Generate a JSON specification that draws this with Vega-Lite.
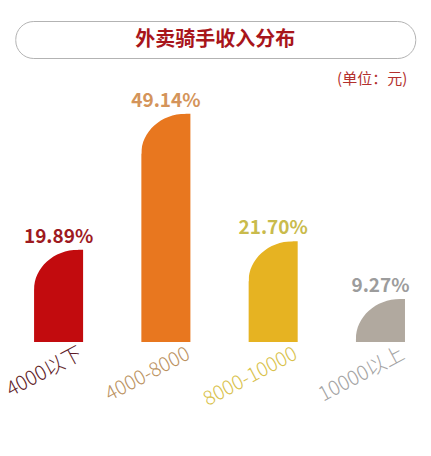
{
  "$schema": "https://vega.github.io/schema/vega-lite/v6.json",
  "padding": {"top": 20, "left": 0, "right": 0, "bottom": 0},
  "background": "white",
  "config": {"font": "Noto Sans CJK SC", "view": {"stroke": null}},
  "datasets": {
    "income": [
      {"range": "4000以下", "share": 0.1989},
      {"range": "4000-8000", "share": 0.4914},
      {"range": "8000-10000", "share": 0.2170},
      {"range": "10000以上", "share": 0.0927}
    ]
  },
  "spacing": 0,
  "center": true,
  "vconcat": [
    {
      "width": 400,
      "height": 37,
      "view": {"stroke": "#b3b3b3", "strokeWidth": 1, "cornerRadius": 18, "fill": "white"},
      "title": {"text": "(单位：元)", "orient": "bottom", "anchor": "end", "offset": 14, "dx": -8, "fontSize": 15, "fontWeight": "normal", "color": "#b3302d"},
      "data": {"values": [{"t": "外卖骑手收入分布"}]},
      "mark": {"type": "text", "fontSize": 20, "fontWeight": "bold", "color": "#a8151b"},
      "encoding": {"text": {"field": "t", "type": "nominal"}}
    },
    {
      "width": 431,
      "height": 254,
      "data": {"name": "income"},
      "encoding": {
        "x": {"field": "range", "type": "nominal", "sort": null,
              "scale": {"domain": ["4000以下", "4000-8000", "8000-10000", "10000以上"], "paddingInner": 0.543, "paddingOuter": 0.28, "align": 0.567},
              "axis": null}
      },
      "layer": [
        {
          "mark": {"type": "bar"},
          "encoding": {
            "y": {"field": "share", "type": "quantitative", "scale": {"domain": [0, 0.547], "nice": false, "zero": true}, "axis": null},
            "color": {"field": "range", "type": "nominal", "sort": null, "legend": null,
                      "scale": {"domain": ["4000以下", "4000-8000", "8000-10000", "10000以上"], "range": ["#c20b0e", "#e8771f", "#e6b322", "#b1a99f"]}}
          }
        },
        {
          "mark": {"type": "point", "shape": "M-0.05,-0.05 L0.92,-0.05 L0.92,0 C0.412,0 0,0.373 0,0.833 L-0.05,0.833 Z", "size": 9216, "filled": true, "color": "white", "opacity": 1, "strokeWidth": 0},
          "encoding": {
            "x": {"field": "range", "type": "nominal", "sort": null, "bandPosition": 0},
            "y": {"field": "share", "type": "quantitative"}
          }
        },
        {
          "mark": {"type": "text", "fontSize": 19, "fontWeight": "bold", "baseline": "alphabetic", "dy": -7},
          "encoding": {
            "y": {"field": "share", "type": "quantitative"},
            "text": {"field": "share", "type": "quantitative", "format": ".2%"},
            "color": {"field": "range", "type": "nominal", "sort": null, "legend": null,
                      "scale": {"domain": ["4000以下", "4000-8000", "8000-10000", "10000以上"], "range": ["#9e1a1f", "#d4945a", "#c9bb4c", "#9c9c9c"]}}
          }
        },
        {
          "mark": {"type": "text", "fontSize": 20, "fontWeight": 300, "angle": 332, "align": "right", "baseline": "middle", "dx": 15, "dy": 20},
          "encoding": {
            "y": {"datum": 0, "type": "quantitative"},
            "text": {"field": "range", "type": "nominal"},
            "color": {"field": "range", "type": "nominal", "sort": null, "legend": null,
                      "scale": {"domain": ["4000以下", "4000-8000", "8000-10000", "10000以上"], "range": ["#5e1a26", "#bb925f", "#d9c24c", "#a3a3a3"]}}
          }
        }
      ],
      "resolve": {"scale": {"color": "independent"}}
    }
  ]
}
